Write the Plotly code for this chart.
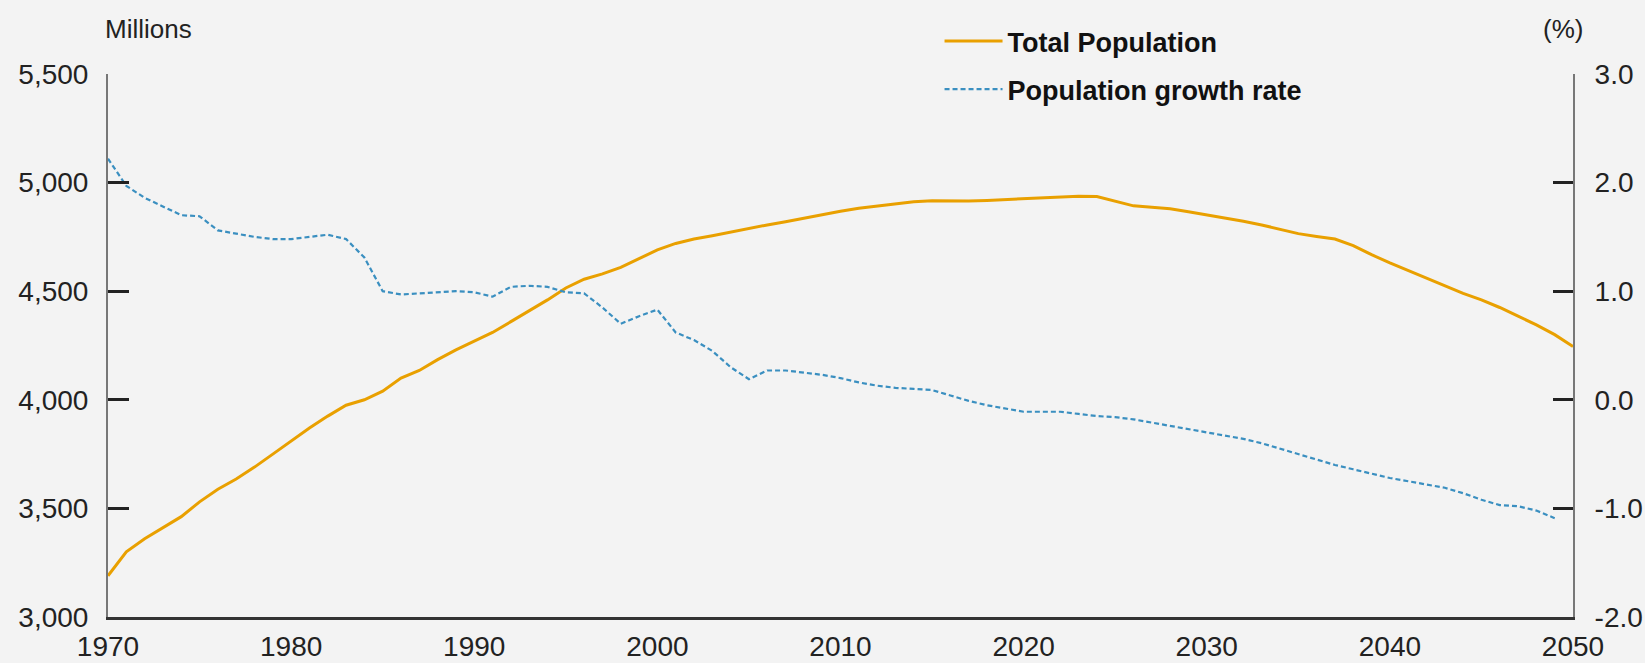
import plotly.graph_objects as go

years_pop = list(range(1970, 2051))
total_population = [
    3190, 3300, 3360, 3412, 3462, 3530, 3588, 3635, 3690, 3750,
    3810, 3870, 3925, 3975, 4000, 4040, 4100, 4135, 4185, 4230,
    4270, 4310, 4360, 4410, 4460, 4515, 4555, 4580, 4610, 4650,
    4690, 4720, 4740, 4755, 4772, 4790, 4805, 4820, 4837, 4852,
    4868, 4882, 4893, 4903, 4912, 4917, 4916, 4915, 4918, 4922,
    4927, 4932, 4936, 4937, 4936, 4915, 4893, 4887, 4880, 4866,
    4852, 4837, 4822, 4805, 4785, 4765, 4752, 4740, 4710, 4668,
    4630, 4595, 4560, 4525, 4490, 4460, 4425, 4385, 4345, 4300,
    4245,
]

years_rate = list(range(1970, 2050))
growth_rate = [
    2.22, 1.97, 1.86, 1.78, 1.70, 1.69, 1.56, 1.53, 1.50, 1.48,
    1.48, 1.50, 1.52, 1.48, 1.31, 1.00, 0.97, 0.98, 0.99, 1.00,
    0.99, 0.95, 1.04, 1.05, 1.04, 0.99, 0.98, 0.85, 0.70, 0.77,
    0.83, 0.62, 0.55, 0.45, 0.30, 0.19, 0.27, 0.27, 0.25, 0.23,
    0.20, 0.16, 0.13, 0.11, 0.10, 0.09, 0.04, -0.01, -0.05, -0.08,
    -0.11, -0.11, -0.11, -0.13, -0.15, -0.16, -0.18, -0.21, -0.24, -0.27,
    -0.30, -0.33, -0.36, -0.40, -0.45, -0.50, -0.55, -0.60, -0.64, -0.68,
    -0.72, -0.75, -0.78, -0.81, -0.86, -0.92, -0.97, -0.98, -1.02, -1.09,
]

x_ticks = [1970, 1980, 1990, 2000, 2010, 2020, 2030, 2040, 2050]
left_ticks = [3000, 3500, 4000, 4500, 5000, 5500]
left_ticktext = ["3,000", "3,500", "4,000", "4,500", "5,000", "5,500"]
right_ticks = [-2, -1, 0, 1, 2, 3]
right_ticktext = ["-2.0", "-1.0", "0.0", "1.0", "2.0", "3.0"]

FONT = "Liberation Sans, Arial, sans-serif"
TXT = "#222222"
BG = "#f3f3f3"
TICK_SIZE = 28

fig = go.Figure()
fig.add_trace(go.Scatter(
    x=years_pop, y=total_population, name="Total Population",
    mode="lines", line=dict(color="#e9a000", width=3), yaxis="y",
    legendgroup="a",
))
fig.add_trace(go.Scatter(
    x=years_rate, y=growth_rate, name="Population growth rate",
    mode="lines", line=dict(color="#3a8fc0", width=2.2, dash="5px,3px"), yaxis="y2",
    legendgroup="b",
))

fig.update_layout(
    width=1645, height=663,
    margin=dict(l=108, r=72, t=74, b=46, autoexpand=False),
    paper_bgcolor=BG, plot_bgcolor=BG,
    font=dict(family=FONT, size=TICK_SIZE, color=TXT),
    showlegend=True,
    legend=dict(
        x=0.5676, y=1.105, xanchor="left", yanchor="top",
        bgcolor="rgba(0,0,0,0)", borderwidth=0,
        font=dict(family=FONT, size=27, color="#111111", weight="bold"),
        itemwidth=58, tracegroupgap=10,
    ),
    xaxis=dict(
        range=[1970, 2050], tickvals=x_ticks, showgrid=False, zeroline=False,
        showline=True, linecolor="#333333", linewidth=3, ticks="",
        ticklabelstandoff=2, tickfont=dict(size=TICK_SIZE),
    ),
    yaxis=dict(
        range=[3000, 5500], tickvals=left_ticks, ticktext=left_ticktext,
        showgrid=False, zeroline=False, showline=True, linecolor="#777777", linewidth=2,
        ticks="inside", ticklen=21, tickwidth=2.5, tickcolor="#222222",
        ticklabelstandoff=12, tickfont=dict(size=TICK_SIZE),
    ),
    yaxis2=dict(
        range=[-2, 3], tickvals=right_ticks, ticktext=right_ticktext,
        overlaying="y", side="right", showgrid=False, zeroline=False,
        showline=True, linecolor="#777777", linewidth=2,
        ticks="inside", ticklen=20, tickwidth=2.5, tickcolor="#222222",
        ticklabelstandoff=14, tickfont=dict(size=TICK_SIZE),
    ),
    annotations=[
        dict(text="Millions", xref="paper", yref="paper", x=-0.0031, y=1.083,
             xanchor="left", yanchor="middle", showarrow=False,
             font=dict(family=FONT, size=26, color=TXT)),
        dict(text="(%)", xref="paper", yref="paper", x=0.9935, y=1.083,
             xanchor="center", yanchor="middle", showarrow=False,
             font=dict(family=FONT, size=26, color=TXT)),
    ],
)

fig.write_html(
    "out.html",
    config={"displayModeBar": False},
    post_script="document.body.style.margin='0';document.body.style.overflow='hidden';",
)
